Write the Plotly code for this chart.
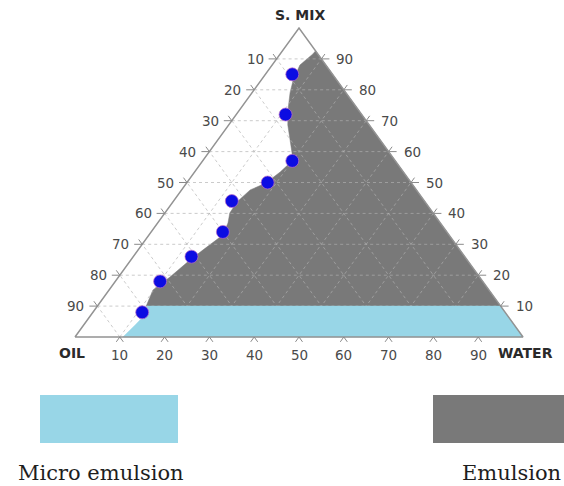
import plotly.graph_objects as go

# ---- data (percentages; oil = 100 - water - s.mix) ----
point_oil = [9, 17, 23, 32, 43, 50, 61, 72, 81]
point_water = [6, 11, 20, 18, 13, 16, 13, 10, 11]
point_smix = [85, 72, 57, 50, 44, 34, 26, 18, 8]

# emulsion region outline (s.mix %, water %)
emul_smix = [92.6, 91.6, 88.0, 83.2, 79.0, 73.5, 68.6, 59.5, 56.6, 53.4, 49.8, 47.6,
             43.7, 40.1, 36.9, 33.0, 28.2, 24.9, 19.4, 15.2, 10.0, 10.0]
emul_water = [7.4, 7.3, 6.2, 7.1, 8.5, 10.8, 13.2, 18.7, 19.9, 19.1, 17.7, 15.3,
              14.3, 14.5, 15.7, 16.5, 14.5, 13.2, 11.5, 9.8, 10.9, 90.0]

# micro emulsion region outline (s.mix %, water %)
micro_smix = [10, 7, 4, 2, 0, 0, 10]
micro_water = [11, 12, 11.5, 11, 10.7, 100, 90]

tick_values = [10, 20, 30, 40, 50, 60, 70, 80, 90]

# ---- triangle frame on the page ----
OX, OY = 75, 337      # OIL corner
WX = 523              # WATER corner (same baseline)
AX, AY = 299, 28      # S. MIX apex


def to_xy(water, smix):
    w, s = water / 100.0, smix / 100.0
    return OX + w * (WX - OX) + s * (AX - OX), OY + s * (AY - OY)


def path(waters, smixes, close=False):
    xs, ys = [], []
    for w, s in zip(waters, smixes):
        x, y = to_xy(w, s)
        xs.append(x)
        ys.append(y)
    if close:
        xs.append(xs[0])
        ys.append(ys[0])
    return xs, ys


fig = go.Figure()

# emulsion region (under the grid)
ex, ey = path(emul_water, emul_smix, close=True)
fig.add_trace(go.Scatter(x=ex, y=ey, mode="lines", fill="toself",
                         fillcolor="#797979", line=dict(color="#797979", width=0.5),
                         hoverinfo="skip", showlegend=False))

# dashed triangular grid
gx, gy = [], []
for v in tick_values:
    # constant s.mix (horizontal)
    for w, s in [(0, v), (100 - v, v)]:
        x, y = to_xy(w, s)
        gx.append(x); gy.append(y)
    gx.append(None); gy.append(None)
    # constant water
    for w, s in [(v, 0), (v, 100 - v)]:
        x, y = to_xy(w, s)
        gx.append(x); gy.append(y)
    gx.append(None); gy.append(None)
    # constant oil
    for w, s in [(100 - v, 0), (0, 100 - v)]:
        x, y = to_xy(w, s)
        gx.append(x); gy.append(y)
    gx.append(None); gy.append(None)
fig.add_trace(go.Scatter(x=gx, y=gy, mode="lines",
                         line=dict(color="rgba(176,176,176,0.66)", width=1, dash="3px,3px"),
                         hoverinfo="skip", showlegend=False))

# micro emulsion band (covers the grid)
mx, my = path(micro_water, micro_smix, close=True)
fig.add_trace(go.Scatter(x=mx, y=my, mode="lines", fill="toself",
                         fillcolor="#98d6e7", line=dict(color="#98d6e7", width=0.5),
                         hoverinfo="skip", showlegend=False))

# triangle outline
tx, ty = path([0, 100, 0, 0], [0, 0, 100, 0])
fig.add_trace(go.Scatter(x=tx, y=ty, mode="lines",
                         line=dict(color="#939393", width=1.5),
                         hoverinfo="skip", showlegend=False))

# tick marks: short outward extensions of the grid lines
kx, ky = [], []
dl = (AX - OX, AY - OY)
ln = (dl[0] ** 2 + dl[1] ** 2) ** 0.5
ux, uy = dl[0] / ln, dl[1] / ln   # direction along the left edge (up-right)
L = 6
for v in tick_values:
    # bottom edge
    bx, by = to_xy(v, 0)
    kx += [bx - ux * L, bx, bx + ux * L, None]
    ky += [by - uy * L, by, by - uy * L, None]
    # left edge
    lx, ly = to_xy(0, v)
    kx += [lx - 8, lx, lx - ux * L, None]
    ky += [ly, ly, ly + uy * L, None]
    # right edge
    rx, ry = to_xy(100 - v, v)
    kx += [rx + 8, rx, rx + ux * L, None]
    ky += [ry, ry, ry + uy * L, None]
fig.add_trace(go.Scatter(x=kx, y=ky, mode="lines",
                         line=dict(color="#8a8a8a", width=1),
                         hoverinfo="skip", showlegend=False))

# measured compositions
px, py = path(point_water, point_smix)
fig.add_trace(go.Scatter(x=px, y=py, mode="markers",
                         marker=dict(color="#0c0ce2", size=13,
                                     line=dict(color="rgba(190,110,200,0.7)", width=1)),
                         customdata=list(zip(point_oil, point_water, point_smix)),
                         hovertemplate="Oil %{customdata[0]}%<br>Water %{customdata[1]}%"
                                       "<br>S. Mix %{customdata[2]}%<extra></extra>",
                         showlegend=False))

# tick labels
num_font = dict(family="DejaVu Sans", size=13.5, color="#4a4a4a")
ann = []
for v in tick_values:
    bx, by = to_xy(v, 0)
    ann.append(dict(x=bx, y=by + 18, text=str(v), showarrow=False,
                    xanchor="center", yanchor="middle", font=num_font))
    lx, ly = to_xy(0, 100 - v)
    ann.append(dict(x=lx - 11, y=ly, text=str(v), showarrow=False,
                    xanchor="right", yanchor="middle", font=num_font))
    rx, ry = to_xy(100 - v, v)
    ann.append(dict(x=rx + 13, y=ry, text=str(v), showarrow=False,
                    xanchor="left", yanchor="middle", font=num_font))

corner_font = dict(family="DejaVu Sans", size=14, color="#2a2a2a")
ann.append(dict(x=AX + 1, y=AY - 13, text="<b>S. MIX</b>", showarrow=False,
                xanchor="center", yanchor="middle", font=corner_font))
ann.append(dict(x=OX - 3, y=OY + 16, text="<b>OIL</b>", showarrow=False,
                xanchor="center", yanchor="middle", font=corner_font))
ann.append(dict(x=WX + 2, y=OY + 16, text="<b>WATER</b>", showarrow=False,
                xanchor="center", yanchor="middle", font=corner_font))

# key
key_font = dict(family="DejaVu Serif", size=21, color="#1e1e1e")
ann.append(dict(x=101, y=473, text="Micro emulsion", showarrow=False,
                xanchor="center", yanchor="middle", font=key_font))
ann.append(dict(x=511, y=473, text="Emulsion", showarrow=False,
                xanchor="center", yanchor="middle", font=key_font))

shapes = [
    dict(type="rect", xref="x", yref="y", x0=40, x1=178, y0=395, y1=443,
         fillcolor="#98d6e7", line=dict(width=0), layer="below"),
    dict(type="rect", xref="x", yref="y", x0=433, x1=566, y0=395, y1=443,
         fillcolor="#797979", line=dict(width=0), layer="below"),
]

fig.update_layout(
    width=564, height=486, autosize=False,
    margin=dict(l=0, r=0, t=0, b=0),
    paper_bgcolor="white", plot_bgcolor="white",
    xaxis=dict(range=[0, 564], visible=False, fixedrange=True),
    yaxis=dict(range=[486, 0], visible=False, fixedrange=True),
    annotations=ann, shapes=shapes, showlegend=False,
)

fig.write_html("out.html")
